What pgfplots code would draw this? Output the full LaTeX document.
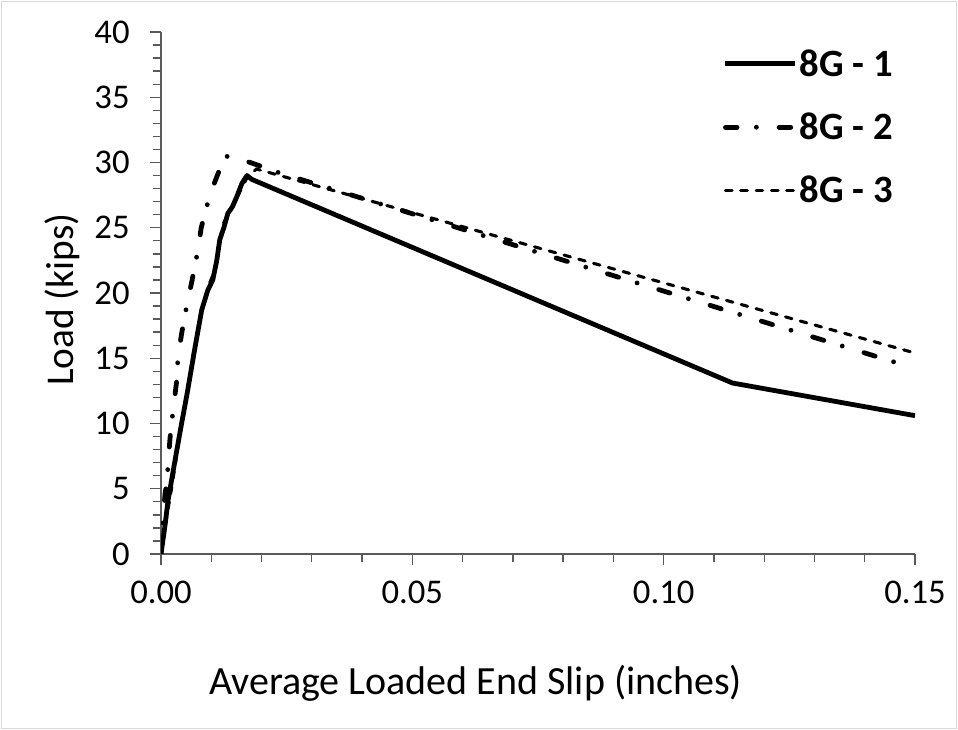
\documentclass[border=0pt]{standalone}
\usepackage{pgfplots}
\pgfplotsset{compat=1.18}
\usepackage{fontspec}
\setmainfont{Carlito}
\definecolor{axisgray}{RGB}{90,90,90}
\definecolor{framegray}{RGB}{217,217,217}
\pgfplotstableread{
x y
0 0
0.0008 2.2
0.0014 4.1
0.0028 7.2
0.0040 9.8
0.0052 12.3
0.0068 15.9
0.0081 18.7
0.0093 20.2
0.0103 21.0
0.0111 22.5
0.0117 24.1
0.0125 25.0
0.0133 26.1
0.0142 26.6
0.0151 27.4
0.0161 28.4
0.0171 29.0
0.0181 28.7
0.1137 13.1
0.15 10.6
}\datA
\pgfplotstableread{
x y
0 0
0.0004 2.5
0.0008 4.6
0.0011 5.3
0.0014 6.8
0.0018 8.9
0.0024 11.0
0.0031 13.2
0.0034 15.2
0.0042 17.1
0.0052 19.2
0.0062 21.0
0.0072 23.0
0.0080 25.0
0.0093 26.9
0.0105 28.3
0.0117 29.5
0.0125 30.4
0.0135 30.5
0.0147 30.4
0.0185 29.9
0.0236 29.2
0.1468 14.6
0.15 14.4
}\datB
\pgfplotstableread{
x y
0 0
0.0010 2.5
0.0020 4.8
0.0035 8.5
0.0050 12.0
0.0065 15.5
0.0080 18.5
0.0095 20.6
0.0108 21.8
0.0115 23.8
0.0125 25.4
0.0140 26.5
0.0150 27.2
0.0160 28.0
0.0172 28.9
0.0190 29.5
0.0830 22.6
0.15 15.4
}\datC
\begin{document}
\begin{tikzpicture}
\useasboundingbox (0,0) rectangle (718.5pt,547.5pt);
\draw[framegray, line width=1.2pt] (1.2pt,1.2pt) rectangle (717.3pt,546.3pt);
\begin{axis}[
  at={(120.75pt,132pt)}, anchor=south west,
  width=565.5pt, height=391.5pt, scale only axis,
  xmin=0, xmax=0.15, ymin=0, ymax=40,
  axis x line*=bottom, axis y line*=left,
  xtick={0,0.05,0.1,0.15}, minor x tick num=4,
  ytick={0,5,...,40}, minor y tick num=4,
  tick align=outside, major tick length=8pt, minor tick length=6pt,
  every tick/.style={axisgray, line width=1pt},
  every minor tick/.style={axisgray, line width=1pt},
  axis line style={axisgray, line width=1pt},
  scaled x ticks=false,
  /pgf/number format/assume math mode=true,
  xticklabel style={font=\fontsize{26}{30}\selectfont, yshift=-9pt, /pgf/number format/.cd, fixed, fixed zerofill, precision=2},
  yticklabel style={font=\fontsize{26}{30}\selectfont, xshift=-12pt},
  xlabel={Average Loaded End Slip (inches)},
  ylabel={Load (kips)},
  xlabel style={font=\fontsize{30}{35}\selectfont, at={(axis description cs:0.4172,-0.247)}, anchor=center},
  ylabel style={font=\fontsize{29.5}{35}\selectfont, at={(axis description cs:-0.131,0.487)}, anchor=center},
  legend style={at={(axis description cs:0.745,0.972)}, anchor=north west, draw=none, fill=none,
    font=\bfseries\fontsize{29}{34}\selectfont, row sep=22pt, inner sep=0pt},
  legend cell align=left,
  legend image code/.code={\draw[#1] (0pt,0pt) -- (52pt,0pt);},
]
\addplot[black, line width=3.6pt, line join=round] table[x=x,y=y]{\datA};
\addlegendentry{8G - 1}
\addplot[black, line width=3.6pt, line cap=round, dash pattern=on 8.75pt off 14.5pt on 0pt off 17pt] table[x=x,y=y]{\datB};
\addlegendentry{8G - 2}
\addplot[black, line width=2.3pt, line cap=round, dash pattern=on 5pt off 6.5pt] table[x=x,y=y]{\datC};
\addlegendentry{8G - 3}
\end{axis}
\end{tikzpicture}
\end{document}
